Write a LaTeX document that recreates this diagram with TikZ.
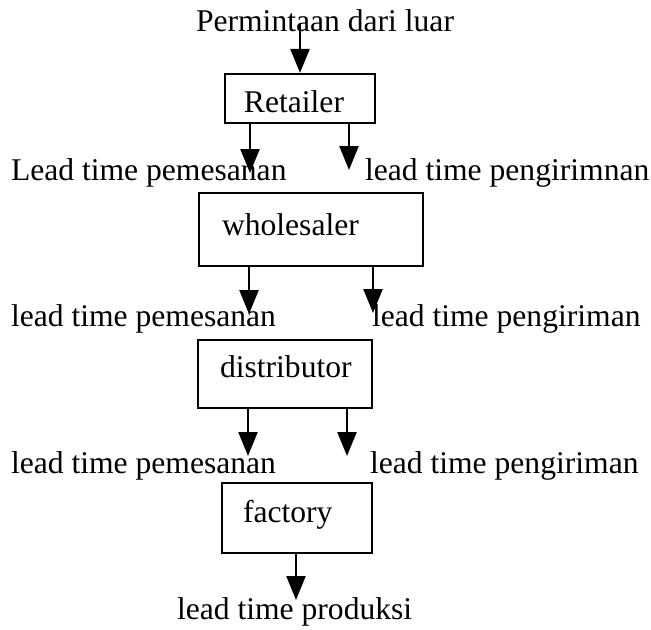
\documentclass[tikz,border=0pt]{standalone}
\usepackage{fontspec}
\setmainfont{Liberation Serif}
\usetikzlibrary{arrows.meta}
\tikzset{
  lbl/.style={inner sep=0pt, outer sep=0pt, font=\fontsize{15.8}{18}\selectfont},
  boxnode/.style={draw, line width=1.1pt, inner sep=0pt},
  arr/.style={line width=1.2pt, -{Triangle[length=12pt,width=9.5pt]}}
}
\begin{document}
\begin{tikzpicture}[x=0.5pt,y=-0.5pt]
\useasboundingbox (0,0) rectangle (651,629);
% boxes
\node[boxnode, minimum width=75pt, minimum height=24.5pt] (ret) at (300,98.5) {};
\node[boxnode, minimum width=112pt, minimum height=36.5pt] (whl) at (311,229.5) {};
\node[boxnode, minimum width=87pt, minimum height=34pt] (dis) at (285,374) {};
\node[boxnode, minimum width=75pt, minimum height=35pt] (fac) at (297,518) {};
% box texts
\node[lbl, anchor=base] (tret) at (294,112) {Retailer};
\node[lbl, anchor=base west] (twhl) at (222,235) {wholesaler};
\node[lbl, anchor=base west] (tdis) at (220,377) {distributor};
\node[lbl, anchor=base west] (tfac) at (243,522) {factory};
% labels
\node[lbl, anchor=base] (perm) at (325,31) {Permintaan dari luar};
\node[lbl, anchor=base west] (l1a) at (11,180) {Lead time pemesanan};
\node[lbl, anchor=base west] (l1b) at (365,180) {lead time pengirimnan};
\node[lbl, anchor=base west] (l2a) at (11,326) {lead time pemesanan};
\node[lbl, anchor=base west] (l2b) at (372,326) {lead time pengiriman};
\node[lbl, anchor=base west] (l3a) at (11,473) {lead time pemesanan};
\node[lbl, anchor=base west] (l3b) at (370,473) {lead time pengiriman};
\node[lbl, anchor=base west] (l4) at (177,619) {lead time produksi};
% arrow tips / starts
\coordinate (p0) at (300,24);
\coordinate (t1a) at (250,173);
\coordinate (t1b) at (349,170);
\coordinate (t2a) at (249,314);
\coordinate (t2b) at (373,313);
\coordinate (t3a) at (248,456);
\coordinate (t3b) at (347,456);
\coordinate (t4) at (296,600);
% connectors
\draw[arr] (p0) -- (ret.north);
\draw[arr] (ret.south -| t1a) -- (t1a);
\draw[arr] (ret.south -| t1b) -- (t1b);
\draw[arr] (whl.south -| t2a) -- (t2a);
\draw[arr] (whl.south -| t2b) -- (t2b);
\draw[arr] (dis.south -| t3a) -- (t3a);
\draw[arr] (dis.south -| t3b) -- (t3b);
\draw[arr] (fac.south -| t4) -- (t4);
\end{tikzpicture}
\end{document}
